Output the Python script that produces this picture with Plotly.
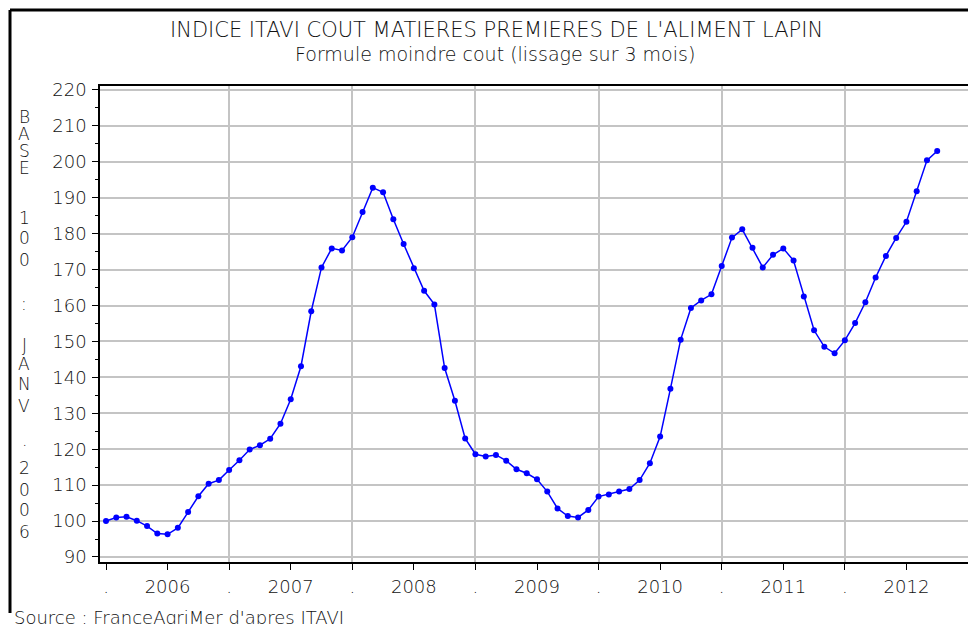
import plotly.graph_objects as go

# ---- data ----
start_year = 2006
index_values = [
    100.0, 101.0, 101.2, 100.1, 98.6, 96.5, 96.3, 98.1, 102.5, 106.9, 110.4, 111.4,   # 2006
    114.2, 116.9, 119.9, 121.1, 122.9, 127.1, 133.9, 143.1, 158.4, 170.6, 175.9, 175.3,  # 2007
    179.0, 186.0, 192.8, 191.5, 184.0, 177.1, 170.4, 164.1, 160.3, 142.6, 133.5, 123.0,  # 2008
    118.6, 118.0, 118.4, 116.8, 114.4, 113.3, 111.6, 108.2, 103.5, 101.4, 101.0, 103.1,  # 2009
    106.8, 107.4, 108.2, 108.9, 111.4, 116.1, 123.5, 136.8, 150.5, 159.3, 161.4, 163.1,  # 2010
    171.0, 178.9, 181.2, 176.1, 170.6, 174.1, 175.9, 172.5, 162.5, 153.1, 148.5, 146.7,  # 2011
    150.3, 155.1, 160.9, 167.8, 173.8, 178.8, 183.3, 191.8, 200.4, 203.0,                # 2012
]
month_index = list(range(len(index_values)))
year_labels = ["2006", "2007", "2008", "2009", "2010", "2011", "2012"]
y_ticks = list(range(90, 221, 10))

title_text = "INDICE ITAVI COUT MATIERES PREMIERES DE L'ALIMENT LAPIN"
subtitle_text = "Formule moindre cout (lissage sur 3 mois)"
source_text = "Source : FranceAgriMer d'apres ITAVI"
ytitle_chars = ["B", "A", "S", "E", "1", "0", "0", ":", "J", "A", "N", "V", ".", "2", "0", "0", "6"]

# ---- layout geometry (pixels) ----
W, H = 968, 624
L, R, T, B = 100, 0, 86, 62
PW, PH = W - L - R, H - T - B

def px_x(px):
    return (px - L) / PW

def px_y(py):
    return (H - B - py) / PH

FONT = "DejaVu Sans"
WEIGHT = 200
TXT = "#111111"
BLUE = "#0000ff"
GRID = "#c4c4c4"

# x tick values/text: "." at each January, year label at each July
tickvals, ticktext = [], []
for i, yl in enumerate(year_labels):
    tickvals += [12 * i, 12 * i + 6]
    ticktext += [".", yl]
tickvals.append(12 * len(year_labels))
ticktext.append(".")

fig = go.Figure()
fig.add_trace(go.Scatter(
    x=month_index, y=index_values, mode="lines+markers",
    line=dict(color=BLUE, width=1.5),
    marker=dict(color=BLUE, size=6),
    showlegend=False, hoverinfo="y",
))

tickfont = dict(family=FONT, size=18, color=TXT, weight=WEIGHT)
fig.update_layout(
    width=W, height=H,
    margin=dict(l=L, r=R, t=T, b=B, pad=0),
    paper_bgcolor="white", plot_bgcolor="white",
    font=dict(family=FONT, size=18, color=TXT, weight=WEIGHT),
    xaxis=dict(
        range=[-0.585, 84.0],
        tickmode="array", tickvals=tickvals, ticktext=ticktext,
        ticks="outside", ticklen=6, tickwidth=1.2, tickcolor="black",
        showgrid=False, zeroline=False,
        showline=True, linecolor="black", linewidth=1.5, mirror=True,
        tickfont=tickfont, ticklabelstandoff=2,
        minor=dict(tickmode="array", tickvals=[12 * k for k in range(1, 8)],
                   ticks="", showgrid=True, gridcolor=GRID, gridwidth=1.5),
    ),
    yaxis=dict(
        range=[88.6, 221.1],
        tickmode="array", tickvals=y_ticks,
        ticks="outside", ticklen=6, tickwidth=1.2, tickcolor="black",
        showgrid=True, gridcolor=GRID, gridwidth=1.5, zeroline=False,
        showline=True, linecolor="black", linewidth=1.5, mirror=False,
        tickfont=tickfont, ticklabelstandoff=2,
        minor=dict(dtick=5, tick0=0, ticks="outside", ticklen=3,
                   tickcolor="black", tickwidth=1, showgrid=False),
    ),
)

annotations = [
    dict(text=title_text, x=px_x(496), y=px_y(30), xref="paper", yref="paper",
         showarrow=False, xanchor="center", yanchor="middle",
         font=dict(family=FONT, size=21, color=TXT, weight=WEIGHT)),
    dict(text=subtitle_text, x=px_x(495), y=px_y(54), xref="paper", yref="paper",
         showarrow=False, xanchor="center", yanchor="middle",
         font=dict(family=FONT, size=19, color=TXT, weight=WEIGHT)),
    dict(text=source_text, x=px_x(12), y=px_y(617), xref="paper", yref="paper",
         showarrow=False, xanchor="left", yanchor="middle",
         font=dict(family=FONT, size=18, color=TXT, weight=WEIGHT)),
]
ytitle_y = [117, 134, 151, 168, 218, 238, 260, 304, 345, 364, 384, 406, 440, 468, 490, 510, 532]
for ch, yy in zip(ytitle_chars, ytitle_y):
    annotations.append(dict(text=ch, x=px_x(24), y=px_y(yy), xref="paper", yref="paper",
                            showarrow=False, xanchor="center", yanchor="middle",
                            font=dict(family=FONT, size=17, color=TXT, weight=WEIGHT)))
fig.update_layout(annotations=annotations)

# outer frame (left and top edges visible in the picture)
fig.add_shape(type="line", xref="paper", yref="paper",
              x0=px_x(10), x1=px_x(10), y0=px_y(10), y1=px_y(613),
              line=dict(color="black", width=3))
fig.add_shape(type="line", xref="paper", yref="paper",
              x0=px_x(10), x1=px_x(970), y0=px_y(10), y1=px_y(10),
              line=dict(color="black", width=3))

fig.write_html("out.html", config={"displayModeBar": False},
               post_script="document.body.style.margin='0';")
